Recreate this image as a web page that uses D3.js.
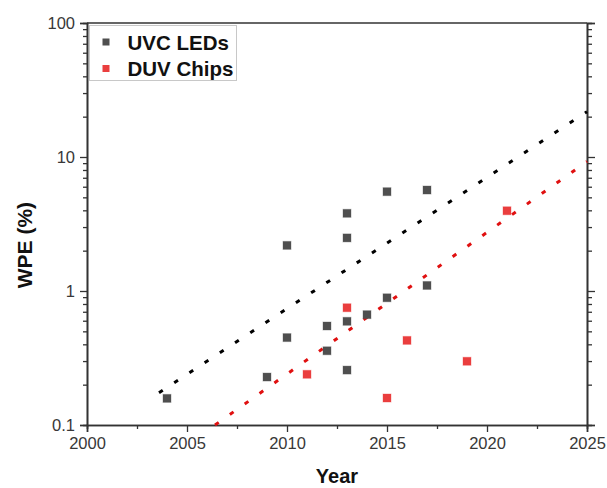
<!DOCTYPE html>
<html>
<head>
<meta charset="utf-8">
<script src="https://cdn.jsdelivr.net/npm/d3@7"></script>
<style>
  html, body { margin: 0; padding: 0; background: #fff; }
  svg { display: block; font-family: Arial, "Liberation Sans", Helvetica, sans-serif; }
</style>
</head>
<body>
<svg id="chart" width="607" height="488"></svg>
<script>
// UVC LED wall-plug efficiencies by year
const uvcYears  = [2004, 2009, 2010, 2010, 2012, 2012, 2013, 2013, 2013, 2013, 2014, 2015, 2015, 2017, 2017];
const uvcValues = [0.158, 0.228, 2.19, 0.449, 0.548, 0.358, 3.80, 2.49, 0.594, 0.257, 0.666, 5.51, 0.89, 5.67, 1.10];

// DUV chip wall-plug efficiencies by year
const duvYears  = [2011, 2013, 2015, 2016, 2019, 2021];
const duvValues = [0.239, 0.75, 0.159, 0.428, 0.299, 3.97];

// Exponential trend lines (end points)
const uvcTrendYears  = [2003.6, 2025];
const uvcTrendValues = [0.174, 21.8];
const duvTrendYears  = [2006.4, 2025];
const duvTrendValues = [0.1, 9.25];

const xTicks = [2000, 2005, 2010, 2015, 2020, 2025];
const yTicks = [0.1, 1, 10, 100];
const legendLabels = ["UVC LEDs", "DUV Chips"];

const colors = { uvc: "#4f4f4f", duv: "#ea3e3e", uvcLine: "#000000", duvLine: "#e01010" };

const svg = d3.select("#chart");
const margin = { left: 87, right: 20, top: 23, bottom: 63 };
const W = 607, H = 488;
const plotW = W - margin.left - margin.right;
const plotH = H - margin.top - margin.bottom;

const x = d3.scaleLinear().domain([2000, 2025]).range([0, plotW]);
const y = d3.scaleLog().domain([0.1, 100]).range([plotH, 0]);

const g = svg.append("g").attr("transform", `translate(${margin.left},${margin.top})`);

// minor tick values for the log axis (2..9 per decade)
const yMinor = [];
[0.1, 1, 10].forEach(d => { for (let k = 2; k <= 9; k++) yMinor.push(d * k); });
const xMinor = d3.range(2002.5, 2025, 5);

const axisColor = "#333";
const labelColor = "#383838";

// bottom axis
g.append("g").attr("transform", `translate(0,${plotH})`)
  .call(d3.axisBottom(x).tickValues(xTicks).tickFormat(d3.format("d")).tickSizeOuter(0).tickSize(7).tickPadding(5));
g.append("g").attr("transform", `translate(0,${plotH})`)
  .call(d3.axisBottom(x).tickValues(xMinor).tickFormat("").tickSizeOuter(0).tickSize(4));

// left axis
g.append("g")
  .call(d3.axisLeft(y).tickValues(yTicks).tickFormat(d => d3.format("~g")(d)).tickSizeOuter(0).tickSize(7).tickPadding(5));
g.append("g")
  .call(d3.axisLeft(y).tickValues(yMinor).tickFormat("").tickSizeOuter(0).tickSize(4));

// right axis (ticks only)
g.append("g").attr("transform", `translate(${plotW},0)`)
  .call(d3.axisRight(y).tickValues(yTicks).tickFormat("").tickSizeOuter(0).tickSize(8));
g.append("g").attr("transform", `translate(${plotW},0)`)
  .call(d3.axisRight(y).tickValues(yMinor).tickFormat("").tickSizeOuter(0).tickSize(5));

g.selectAll(".domain").attr("stroke", axisColor).attr("stroke-width", 1.6);
g.selectAll(".tick line").attr("stroke", axisColor).attr("stroke-width", 1.3);
g.selectAll(".tick text").attr("fill", labelColor).style("font-size", "16.5px");

// top border
g.append("line").attr("x1", 0).attr("x2", plotW).attr("y1", 0).attr("y2", 0)
  .attr("stroke", axisColor).attr("stroke-width", 1.6);

// axis titles
svg.append("text")
  .attr("x", margin.left + plotW / 2).attr("y", 483)
  .attr("text-anchor", "middle").style("font-size", "20px").style("font-weight", "bold")
  .attr("fill", "#111").text("Year");
svg.append("text")
  .attr("transform", `translate(32,${margin.top + y(2.2)}) rotate(-90)`)
  .attr("text-anchor", "middle").style("font-size", "21px").style("font-weight", "bold")
  .attr("fill", "#111").text("WPE (%)");

// trend lines
const line = d3.line().x(d => x(d[0])).y(d => y(d[1]));
const plot = g.append("g");
plot.append("path")
  .datum(d3.zip(uvcTrendYears, uvcTrendValues))
  .attr("d", line).attr("fill", "none").attr("stroke", colors.uvcLine)
  .attr("stroke-width", 3).attr("stroke-dasharray", "4.5 13.7");
plot.append("path")
  .datum(d3.zip(duvTrendYears, duvTrendValues))
  .attr("d", line).attr("fill", "none").attr("stroke", colors.duvLine)
  .attr("stroke-width", 3).attr("stroke-dasharray", "4.5 13.7");

// markers
const ms = 8;
function squares(years, values, color) {
  plot.append("g").selectAll("rect")
    .data(d3.zip(years, values)).join("rect")
    .attr("x", d => x(d[0]) - ms / 2).attr("y", d => y(d[1]) - ms / 2)
    .attr("width", ms).attr("height", ms)
    .attr("fill", color).attr("stroke", color).attr("stroke-opacity", 0.35).attr("stroke-width", 1);
}
squares(uvcYears, uvcValues, colors.uvc);
squares(duvYears, duvValues, colors.duv);

// legend
const lg = svg.append("g").attr("transform", "translate(89.5,25.5)");
lg.append("rect").attr("width", 147).attr("height", 55)
  .attr("fill", "#fff").attr("stroke", "#c8c8c8").attr("stroke-width", 1);
const legendColors = [colors.uvc, colors.duv];
legendLabels.forEach((lab, i) => {
  const cy = 16.5 + i * 26.5;
  lg.append("rect").attr("x", 13).attr("y", cy - 3.5).attr("width", 7).attr("height", 7)
    .attr("fill", legendColors[i]);
  lg.append("text").attr("x", 38).attr("y", cy + 7.5)
    .style("font-size", "20.5px").style("font-weight", "bold").attr("fill", "#111").text(lab);
});
</script>
</body>
</html>
